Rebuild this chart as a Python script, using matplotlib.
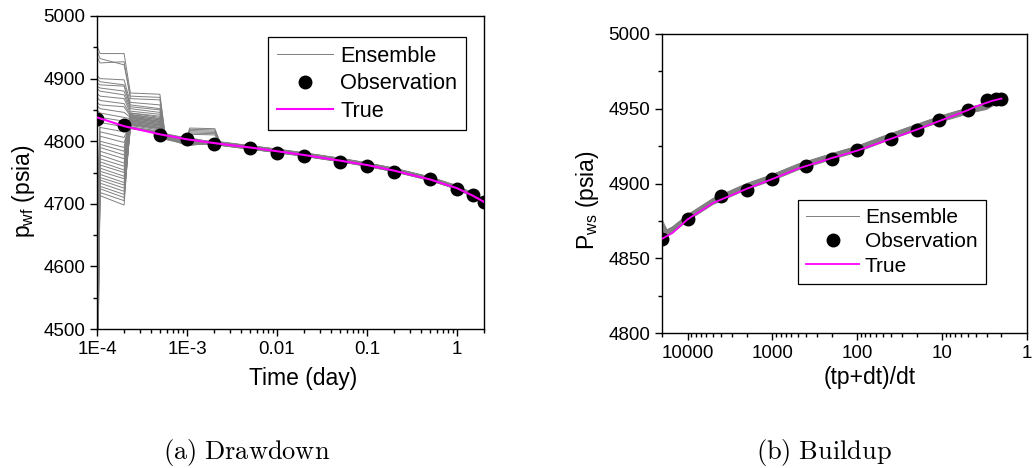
import numpy as np
import matplotlib
matplotlib.use("Agg")
import matplotlib.pyplot as plt
from matplotlib.ticker import FixedLocator, FixedFormatter, LogLocator, MultipleLocator, NullFormatter

plt.rcParams['font.family'] = ['Liberation Sans', 'DejaVu Sans']
plt.rcParams['mathtext.fontset'] = 'custom'
plt.rcParams['mathtext.rm'] = 'Liberation Sans'

# ---------------- (a) drawdown data ----------------
obs_t = [1e-4, 2e-4, 5e-4, 1e-3, 2e-3, 5e-3, 0.01, 0.02, 0.05, 0.1, 0.2, 0.5, 1, 1.5, 2]
obs_p = [4835, 4826, 4810, 4803.5, 4796, 4789, 4781, 4777, 4766, 4761, 4751, 4739, 4724, 4714, 4703]

true_t = [1e-4, 2e-4, 5e-4, 1e-3, 2e-3, 5e-3, 0.01, 0.02, 0.05, 0.1, 0.2, 0.5, 1, 1.5, 2]
true_p = [4838, 4824, 4811, 4803, 4797, 4790, 4784, 4778, 4769, 4762, 4753, 4739, 4725, 4713, 4703]

# ensemble, early times: one list per time, one value per member
ens_t_early = [1e-4, 1.08e-4, 2e-4, 2.35e-4, 5e-4, 5.7e-4, 1e-3, 1.07e-3]
ens_p_1e4 = [4953, 4945, 4935, 4905, 4900, 4893, 4888, 4884, 4876, 4870, 4862, 4857,
             4850, 4842, 4700, 4650, 4600, 4560,
             4540, 4520, 4500, 4480, 4470, 4460, 4450, 4440, 4430, 4420, 4410, 4400,
             4390, 4380, 4370, 4360, 4350, 4340]
ens_p_108e4 = [4940, 4932, 4925, 4900, 4895, 4890, 4885, 4880, 4872, 4865, 4858, 4852,
               4845, 4838, 4830, 4822, 4815, 4808,
               4800, 4795, 4790, 4784, 4778, 4772, 4767, 4762, 4757, 4752, 4747, 4742,
               4738, 4733, 4728, 4724, 4718, 4713]
ens_p_2e4 = [4940, 4922, 4927, 4898, 4890, 4888, 4880, 4874, 4868, 4860, 4855, 4846,
             4838, 4832, 4823, 4815, 4806, 4798,
             4790, 4784, 4778, 4772, 4765, 4760, 4754, 4750, 4744, 4740, 4734, 4730,
             4725, 4720, 4715, 4710, 4705, 4698]
ens_p_235e4 = [4877, 4872, 4868, 4862, 4858, 4855, 4852, 4848, 4845, 4842, 4840, 4838,
               4836, 4834, 4832, 4830, 4828, 4826,
               4845, 4843, 4841, 4839, 4837, 4835, 4833, 4831, 4829, 4827, 4825, 4823,
               4822, 4821, 4820, 4828, 4833, 4838]
ens_p_5e4 = [4875, 4870, 4866, 4858, 4852, 4850, 4846, 4843, 4840, 4836, 4834, 4832,
             4830, 4828, 4826, 4824, 4822, 4820,
             4838, 4836, 4834, 4832, 4830, 4828, 4826, 4824, 4822, 4820, 4818, 4816,
             4815, 4814, 4813, 4821, 4826, 4831]
ens_p_57e4 = [4812, 4811, 4810, 4809, 4808, 4807, 4806, 4805, 4804, 4803, 4812, 4810,
              4808, 4806, 4804, 4811, 4809, 4807,
              4805, 4803, 4812, 4810, 4808, 4806, 4804, 4811, 4809, 4807, 4805, 4803,
              4810, 4808, 4806, 4804, 4812, 4807]
ens_p_1e3 = [4805, 4804, 4802, 4800, 4798, 4796, 4794, 4806, 4803, 4801, 4799, 4797,
             4795, 4793, 4805, 4803, 4801, 4799,
             4797, 4795, 4804, 4802, 4800, 4798, 4796, 4794, 4806, 4804, 4802, 4800,
             4798, 4796, 4803, 4801, 4799, 4797]
ens_p_107e3 = [4821, 4819, 4817, 4815, 4813, 4811, 4794, 4805, 4803, 4801, 4799, 4797,
               4795, 4793, 4805, 4803, 4801, 4799,
               4797, 4795, 4803, 4801, 4800, 4798, 4796, 4794, 4805, 4803, 4801, 4800,
               4798, 4796, 4802, 4800, 4799, 4797]
# ensemble, later times: band centre and member offsets
ens_t_late = [2.04e-3, 2.33e-3, 5e-3, 0.01, 0.02, 0.05, 0.1, 0.2, 0.5, 1, 1.5, 2]
ens_c_late = [4797, 4796, 4790, 4784.5, 4778.5, 4770, 4762.5, 4754, 4740, 4726, 4714, 4703]
ens_off = [2.5, 2.0, 1.5, 1.0, 0.5, 0.0, -0.5, -1.0, -1.5, -2.0, -2.5, 3.0,
           2.2, 1.7, 1.2, 0.7, 0.2, -0.3, -0.8, -1.3, -1.8, -2.3, -2.8, 1.9,
           1.4, 0.9, 0.4, -0.1, -0.6, -1.1, -1.6, -2.1, 2.7, 0.6, -0.4, -1.2]
bump_2e3 = [4820, 4818, 4816, 4814, 4812, 4810]

# ---------------- (b) buildup data ----------------
bu_obs_x = [20000, 10000, 4000, 2000, 1000, 400, 200, 100, 40, 20, 11, 5, 3, 2.3, 2]
bu_obs_p = [4862.7, 4876.1, 4891.7, 4895.5, 4903.3, 4911.6, 4916.3, 4922.3, 4930.1,
            4935.7, 4942.4, 4949.1, 4955.8, 4956.5, 4956.7]

bu_true_x = [20000, 15000, 10000, 5000, 2000, 1000, 500, 200, 100, 50, 20, 10, 5, 4, 3, 2.5, 2]
bu_true_p = [4863, 4867, 4876, 4887, 4896.5, 4903, 4910, 4917, 4922, 4928, 4936, 4942.5,
             4949, 4951.5, 4954, 4955.5, 4956.8]

bu_ens_x = [20000, 17500, 15000, 10000, 5000, 2000, 1000, 500, 200, 100, 50, 20, 10, 5, 4, 3, 2.5, 2]
bu_ens_c = [4866, 4867, 4869, 4877, 4888, 4898, 4904, 4911, 4918, 4923, 4929.5, 4937.5,
            4943.5, 4948.5, 4950, 4951.5, 4954, 4956]
bu_ens_start = [4876, 4874, 4872, 4870, 4868, 4867, 4866, 4865, 4864, 4863,
                4875, 4873, 4871, 4869, 4868, 4866, 4865, 4864, 4863, 4862]
bu_ens_off = [2.0, 1.6, 1.2, 0.8, 0.4, 0.0, -0.4, -0.8, -1.2, -1.6,
              -2.0, 1.8, 1.4, 1.0, 0.6, 0.2, -0.2, -0.6, -1.0, -1.4]

ens_color = '#808080'
true_color = '#ff00ff'

fig = plt.figure(figsize=(10.36, 4.68), dpi=100)
ax1 = fig.add_axes([97 / 1036, 1 - 329 / 468, 387 / 1036, 313 / 468])
ax2 = fig.add_axes([662 / 1036, 1 - 333 / 468, 365 / 1036, 299 / 468])

# ---- drawdown ----
early = np.array([ens_p_1e4, ens_p_108e4, ens_p_2e4, ens_p_235e4, ens_p_5e4,
                  ens_p_57e4, ens_p_1e3, ens_p_107e3]).T
late = np.array(ens_c_late)[None, :] + np.array(ens_off)[:, None]
late[:len(bump_2e3), 0] = bump_2e3
ens_t = ens_t_early + ens_t_late
for k in range(early.shape[0]):
    ax1.plot(ens_t, np.concatenate([early[k], late[k]]), color=ens_color, lw=0.7,
             label='Ensemble' if k == 0 else None, zorder=1)
ax1.plot(obs_t, obs_p, 'o', color='black', ms=9, label='Observation', zorder=2)
ax1.plot(true_t, true_p, color=true_color, lw=1.5, label='True', zorder=3)

ax1.set_xscale('log')
ax1.set_xlim(1e-4, 2)
ax1.set_ylim(4500, 5000)
ax1.xaxis.set_major_locator(FixedLocator([1e-4, 1e-3, 1e-2, 1e-1, 1]))
ax1.xaxis.set_major_formatter(FixedFormatter(['1E-4', '1E-3', '0.01', '0.1', '1']))
ax1.xaxis.set_minor_locator(LogLocator(base=10, subs=np.arange(2, 10), numticks=20))
ax1.xaxis.set_minor_formatter(NullFormatter())
ax1.yaxis.set_major_locator(MultipleLocator(100))
ax1.yaxis.set_minor_locator(MultipleLocator(50))
ax1.set_xlabel('Time (day)', fontsize=16.5)
ax1.xaxis.label.set_va('center')
ax1.xaxis.set_label_coords(0.532, -0.157)
ax1.set_ylabel(r'p$_{\mathregular{wf}}$ (psia)', fontsize=16.5, va='center', ha='center')
ax1.yaxis.set_label_coords(-0.191, 0.441)
leg1 = ax1.legend(loc='upper left', bbox_to_anchor=(0.442, 0.933), borderaxespad=0,
                  fontsize=15.7, frameon=True, fancybox=False, edgecolor='black',
                  framealpha=1, handlelength=2.6, handletextpad=0.3, borderpad=0.4,
                  labelspacing=0.3)
leg1.get_frame().set_linewidth(0.9)

# ---- buildup ----
bu_ens = np.array(bu_ens_c)[None, :] + np.array(bu_ens_off)[:, None]
bu_ens[:, 0] = bu_ens_start
for k in range(bu_ens.shape[0]):
    ax2.plot(bu_ens_x, bu_ens[k], color=ens_color, lw=0.7,
             label='Ensemble' if k == 0 else None, zorder=1)
ax2.plot(bu_obs_x, bu_obs_p, 'o', color='black', ms=9, label='Observation', zorder=2)
ax2.plot(bu_true_x, bu_true_p, color=true_color, lw=1.3, label='True', zorder=3)

ax2.set_xscale('log')
ax2.set_xlim(20000, 1)
ax2.set_ylim(4800, 5000)
ax2.xaxis.set_major_locator(FixedLocator([1e4, 1e3, 1e2, 10, 1]))
ax2.xaxis.set_major_formatter(FixedFormatter(['10000', '1000', '100', '10', '1']))
ax2.xaxis.set_minor_locator(LogLocator(base=10, subs=np.arange(2, 10), numticks=20))
ax2.xaxis.set_minor_formatter(NullFormatter())
ax2.yaxis.set_major_locator(MultipleLocator(50))
ax2.yaxis.set_minor_locator(MultipleLocator(25))
ax2.set_xlabel('(tp+dt)/dt', fontsize=16.5)
ax2.xaxis.label.set_va('center')
ax2.xaxis.set_label_coords(0.570, -0.150)
ax2.set_ylabel(r'P$_{\mathregular{ws}}$ (psia)', fontsize=16.5, va='center', ha='center')
ax2.yaxis.set_label_coords(-0.203, 0.445)
leg2 = ax2.legend(loc='upper left', bbox_to_anchor=(0.373, 0.445), borderaxespad=0,
                  fontsize=15, frameon=True, fancybox=False, edgecolor='black',
                  framealpha=1, handlelength=2.5, handletextpad=0.3, borderpad=0.4,
                  labelspacing=0.25)
leg2.get_frame().set_linewidth(0.9)

for ax in (ax1, ax2):
    for s in ax.spines.values():
        s.set_linewidth(1.0)
    ax.tick_params(which='both', direction='out', labelsize=13.5, width=1.0,
                   top=False, right=False)
    ax.tick_params(which='major', length=5)
    ax.tick_params(which='minor', length=3)

fig.text(246.5 / 1036, 1 - 452 / 468, r'$\mathrm{(a)\ Drawdown}$', math_fontfamily='cm',
         fontsize=19, ha='center', va='center')
fig.text(824 / 1036, 1 - 452 / 468, r'$\mathrm{(b)\ Buildup}$', math_fontfamily='cm',
         fontsize=19, ha='center', va='center')

fig.savefig('out.png', dpi=100)
